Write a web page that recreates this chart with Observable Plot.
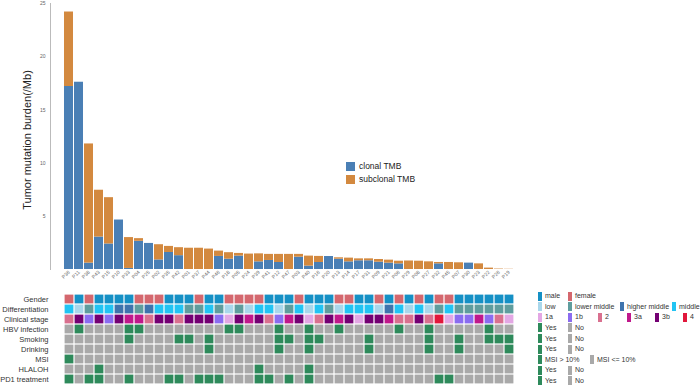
<!DOCTYPE html>
<html><head><meta charset="utf-8">
<script src="https://cdn.jsdelivr.net/npm/d3@7"></script>
<script src="https://cdn.jsdelivr.net/npm/@observablehq/plot@0.6"></script>
<style>
body{margin:0;background:#fff;font-family:"Liberation Sans",Arial,sans-serif;}
#wrap{position:relative;width:700px;height:388px;overflow:hidden;background:#fff;}
#bars,#heat{position:absolute;left:0;}
#bars{top:0}
#heat{top:286px}
.lg{position:absolute;font-size:7px;color:#333;white-space:nowrap;line-height:10px;}
.sw{position:absolute;width:4px;height:9px;}
#ytitle{position:absolute;left:27px;top:140px;transform:translate(-50%,-50%) rotate(-90deg);font-size:11px;color:#222;white-space:nowrap;}
.bl{position:absolute;font-size:8.5px;color:#222;white-space:nowrap;}
.bsw{position:absolute;width:9px;height:9px;}
</style></head><body>
<div id="wrap"><div id="bars"></div><div id="heat"></div><div id="ytitle">Tumor mutation burden(/Mb)</div></div>
<script>
const patients = ["P36","P11","P38","P43","P15","P10","P33","P04","P25","P02","P35","P42","P01","P37","P44","P46","P18","P05","P24","P39","P41","P12","P47","P03","P40","P16","P20","P13","P14","P17","P31","P09","P21","P06","P29","P08","P27","P32","P45","P07","P30","P23","P22","P26","P19"];
const clonal = [17.2,17.6,0.6,3.05,2.4,4.65,0.1,2.65,2.45,0.9, 1.6,1.3,0,0,0,1.23,0.97,1.26,0,0.72, 0.85,0.66,0,1.16,0.32,0.66,1.22,0.97,0.72,0.82, 0.82,0.69,0.6,0.53,0,0,0,0.53,0,0, 0.6,0,0,0,0];
const subclonal = [7.0,0,11.2,4.4,4.35,0,2.9,0.25,0,1.43, 0.57,0.75,2.0,2.0,1.92,0.5,0.61,0.25,1.45,0.75, 0.57,0.76,1.42,0.26,0.94,0.57,0,0.13,0.35,0.18, 0.18,0.25,0.28,0.25,0.8,0.78,0.72,0.13,0.66,0.63, 0,0.53,0.13,0.04,0.02];
const yTicks = [5,10,15,20,25];
const seriesNames = ["clonal TMB","subclonal TMB"];
const seriesColors = ["#4a7fb5","#d3893f"];

const rowNames = ["Gender","Differentiation","Clinical stage","HBV infection","Smoking","Drinking","MSI","HLALOH","PD1 treatment"];
const gender = ["F","M","F","M","M","M","M","F","F","F", "M","M","M","F","M","M","F","F","F","F", "M","M","M","F","M","M","M","F","F","M", "M","F","M","F","M","F","M","F","F","M", "M","M","M","M","M"];
const differentiation = ["m","l","lm","m","m","hm","hm","lm","hm","m", "m","m","lm","lm","m","lm","l","lm","l","m", "m","l","lm","m","l","m","lm","l","m","m", "m","l","hm","m","l","m","l","lm","m","lm", "lm","lm","lm","lm","lm"];
const stage = ["2","3b","1b","3b","1b","3b","3a","3a","2","3b", "3b","2","3b","3b","3b","1b","1a","3b","3a","3b", "2","1b","3a","3b","1a","2","3b","3a","3b","1a", "3b","3b","3a","2","2","3b","2","4","1a","1b", "1b","3a","1b","2","1a"];
const hbv = [0,1,0,0,0,0,1,1,0,0, 0,0,0,0,0,0,1,1,0,0, 0,1,0,0,1,0,0,1,0,0, 0,0,0,1,0,0,1,0,0,0, 0,0,1,0,0];
const smoking = [0,0,0,0,0,0,1,0,0,0, 0,1,1,0,1,0,0,0,0,0, 0,1,1,0,1,1,0,0,0,0, 1,0,0,0,0,0,1,0,0,1, 0,0,1,1,1];
const drinking = [0,0,0,0,0,0,0,0,0,0, 0,0,0,0,1,0,0,0,0,0, 0,1,0,0,1,0,0,0,0,0, 1,0,0,0,0,0,1,0,0,1, 0,0,0,0,1];
const msi = [1,0,0,0,0,0,0,0,0,0, 0,0,0,0,0,0,0,0,0,0, 0,0,0,0,0,0,0,0,0,0, 0,0,0,0,0,0,0,0,0,0, 0,0,0,0,0];
const hlaloh = [0,0,0,1,0,0,0,0,0,0, 0,0,0,0,0,0,0,0,0,1, 0,0,0,0,1,0,0,0,0,0, 0,0,0,0,0,0,0,0,0,0, 0,0,0,0,0];
const pd1 = [1,0,1,1,0,0,1,0,0,0, 1,1,0,1,1,1,0,0,0,1, 1,0,1,0,1,0,0,0,0,0, 0,0,0,0,0,0,0,1,1,0, 0,0,0,0,0];

const genderNames = {M:"male",F:"female"};
const diffNames = {l:"low",lm:"lower middle",hm:"higher middle",m:"middle"};
const cellDomain = ["male","female","low","lower middle","higher middle","middle","1a","1b","2","3a","3b","4","Yes","No"];
const cellColors = ["#1590c5","#d4676e","#a9d7eb","#5f9d9e","#3f74ad","#22c4f3","#e3a7e4","#8b6cf0","#d9708f","#c0188b","#740073","#e1173b","#2e8a5b","#a9a9a9"];

// legend definitions per row
const legendItems = [
  [["male","male"],["female","female"]],
  [["low","low"],["lower middle","lower middle"],["higher middle","higher middle"],["middle","middle"]],
  [["1a","1a"],["1b","1b"],["2","2"],["3a","3a"],["3b","3b"],["4","4"]],
  [["Yes","Yes"],["No","No"]],
  [["Yes","Yes"],["No","No"]],
  [["Yes","Yes"],["No","No"]],
  [["Yes","MSI > 10%"],["No","MSI <= 10%"]],
  [["Yes","Yes"],["No","No"]],
  [["Yes","Yes"],["No","No"]]
];
const legendX = [
  [538,568],[538,568,620,672],[538,568,598,627,655,683],[538,568],[538,568],[538,568],[538,590],[538,568],[538,568]
];

// ---- bar chart ----
const barData = [];
patients.forEach((p,i)=>{
  barData.push({patient:p, type:seriesNames[0], value:clonal[i]});
  barData.push({patient:p, type:seriesNames[1], value:subclonal[i]});
});
const bars = Plot.plot({
  width:700, height:290,
  marginLeft:50, marginRight:173, marginTop:3, marginBottom:21,
  style:{fontFamily:"Liberation Sans, Arial, sans-serif", fontSize:"5px", color:"#666", background:"transparent"},
  x:{domain:patients, paddingInner:0.08, paddingOuter:0.05, tickSize:0, tickPadding:2, tickRotate:-45, label:null},
  y:{domain:[0,25], ticks:yTicks, tickSize:0, tickPadding:5, label:null},
  color:{domain:seriesNames, range:seriesColors},
  marks:[
    Plot.barY(barData,{x:"patient", y:"value", fill:"type"}),
    Plot.frame({anchor:"left", stroke:"#bbb"})
  ]
});
document.getElementById("bars").appendChild(bars);

// ---- heatmap ----
const cells = [];
patients.forEach((p,i)=>{
  const yn = v => v ? "Yes" : "No";
  const vals = [genderNames[gender[i]], diffNames[differentiation[i]], stage[i], yn(hbv[i]), yn(smoking[i]), yn(drinking[i]), yn(msi[i]), yn(hlaloh[i]), yn(pd1[i])];
  rowNames.forEach((r,k)=>cells.push({patient:p,row:r,value:vals[k]}));
});
const heat = Plot.plot({
  width:700, height:102,
  marginLeft:51, marginRight:173, marginTop:5, marginBottom:2,
  style:{fontFamily:"Liberation Sans, Arial, sans-serif", fontSize:"7.5px", color:"#333", background:"transparent"},
  x:{domain:patients, padding:0, axis:null},
  y:{domain:rowNames, padding:0, tickSize:0, tickPadding:3, label:null},
  color:{domain:cellDomain, range:cellColors},
  marks:[
    Plot.cell(cells,{x:"patient", y:"row", fill:"value", inset:0.6})
  ]
});
document.getElementById("heat").appendChild(heat);

// ---- legends ----
const wrap = document.getElementById("wrap");
const colorOf = d3.scaleOrdinal(cellDomain, cellColors);
const rowTop = 291, rowStep = 95/9;
legendItems.forEach((items,k)=>{
  const cy = rowTop + rowStep*(k+0.5);
  items.forEach(([key,label],j)=>{
    const x = legendX[k][j];
    const s = document.createElement("div");
    s.className="sw"; s.style.left=x+"px"; s.style.top=(cy-4.5)+"px"; s.style.background=colorOf(key);
    wrap.appendChild(s);
    const t = document.createElement("div");
    t.className="lg"; t.textContent=label; t.style.left=(x+7)+"px"; t.style.top=(cy-5)+"px";
    wrap.appendChild(t);
  });
});
seriesNames.forEach((n,j)=>{
  const s=document.createElement("div");
  s.className="bsw"; s.style.left="346px"; s.style.top=(162+j*13)+"px"; s.style.background=seriesColors[j];
  wrap.appendChild(s);
  const t=document.createElement("div");
  t.className="bl"; t.textContent=n; t.style.left="359px"; t.style.top=(161+j*13)+"px";
  wrap.appendChild(t);
});
</script>
</body></html>
